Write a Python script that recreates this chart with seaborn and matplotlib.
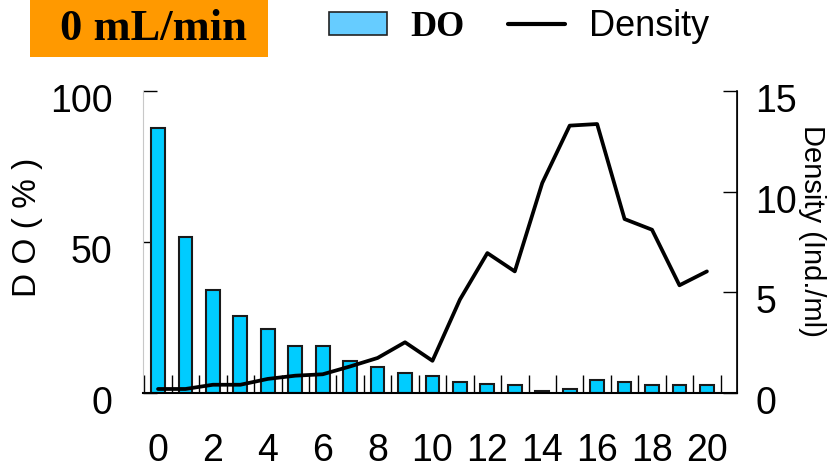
import numpy as np
import pandas as pd
import matplotlib.pyplot as plt
import seaborn as sns
from matplotlib.patches import Patch, Rectangle
from matplotlib.lines import Line2D
from matplotlib.ticker import FixedLocator
from matplotlib.transforms import ScaledTranslation

# ── Data ─────────────────────────────────────────────────────────
days = list(range(21))
do_pct = [87.7, 51.7, 34.0, 25.6, 21.1, 15.6, 15.6, 10.7, 8.5, 6.7, 5.5,
          3.8, 3.1, 2.5, 0.8, 1.3, 4.2, 3.6, 2.5, 2.5, 2.5]
density = [0.2, 0.2, 0.41, 0.41, 0.7, 0.86, 0.93, 1.32, 1.74, 2.52, 1.6,
           4.64, 6.95, 6.04, 10.43, 13.28, 13.36, 8.64, 8.11, 5.35, 6.04]
x_ticks = list(range(0, 21, 2))
do_ticks = [0, 50, 100]
dens_ticks = [0, 5, 10, 15]

df = pd.DataFrame({"day": days, "DO": do_pct, "Density": density})

sns.set_style("white")
plt.rcParams["font.family"] = ["Liberation Sans", "DejaVu Sans"]
for key in ["text.color", "axes.labelcolor", "xtick.color", "ytick.color"]:
    plt.rcParams[key] = "black"

fig = plt.figure(figsize=(8.31, 4.71), dpi=100)
ax = fig.add_axes([0.172, 0.1656, 0.715, 0.6412])

# ── Bars (DO) ────────────────────────────────────────────────────
sns.barplot(data=df, x="day", y="DO", color="#00CCFF", saturation=1,
            width=0.5, edgecolor="#1a1a1a", linewidth=1.5, ax=ax)
ax.set_xlim(-0.55, 21.1)
ax.set_ylim(0, 100)
ax.set_yticks(do_ticks)
ax.set_xticks(x_ticks)
ax.set_xticklabels([str(t) for t in x_ticks])
ax.xaxis.set_minor_locator(FixedLocator(np.arange(-0.5, 21, 1.0)))
ax.tick_params(axis="x", which="major", length=0, labelsize=27, pad=29)
ax.tick_params(axis="x", which="minor", direction="in", length=13,
               width=1, color="black", bottom=True)
ax.tick_params(axis="y", direction="in", length=10, width=1,
               labelsize=27, pad=22, color="black", left=True)
ax.set_xlabel("")
ax.set_ylabel("D O ( % )", fontsize=24, va="center", ha="center",
              rotation_mode="anchor")
ax.yaxis.set_label_coords(-0.195, 0.55)
ax.spines["top"].set_visible(False)
ax.spines["left"].set_color("#c8c8c8")
ax.spines["bottom"].set_color("black")
ax.spines["bottom"].set_linewidth(1.5)

# ── Line (Density) ───────────────────────────────────────────────
ax2 = ax.twinx()
sns.lineplot(data=df, x="day", y="Density", color="black", linewidth=2.7,
             ax=ax2)
ax2.set_ylim(0, 15)
ax2.set_yticks(dens_ticks)
ax2.tick_params(axis="y", direction="in", length=10, width=1,
                labelsize=27, pad=13, color="black", right=True)
ax2.set_ylabel("Density (Ind./ml)", fontsize=21, rotation=270,
               va="center", ha="center", rotation_mode="anchor")
ax2.yaxis.set_label_coords(1.126, 0.536)
ax2.spines["top"].set_visible(False)
ax2.spines["left"].set_visible(False)
ax2.spines["right"].set_color("black")
ax2.spines["right"].set_linewidth(1.2)
ax2.spines["bottom"].set_visible(False)

# tick labels on both y axes sit a little below their ticks
shift = ScaledTranslation(0, -7 / 100, fig.dpi_scale_trans)
for lab in ax.get_yticklabels() + ax2.get_yticklabels():
    lab.set_transform(lab.get_transform() + shift)

# ── Title box ────────────────────────────────────────────────────
fig.patches.append(Rectangle((30 / 831, 1 - 57 / 471), 238 / 831, 57 / 471,
                             transform=fig.transFigure, facecolor="#FF9900",
                             edgecolor="none", zorder=0))
fig.text(153 / 831, 1 - 29 / 471, "0 mL/min", ha="center", va="center",
         fontsize=32, fontweight="bold", family="Liberation Serif")

# ── Legend ───────────────────────────────────────────────────────
handles = [Patch(facecolor="#66CCFF", edgecolor="#222222", linewidth=1.2),
           Line2D([], [], color="black", linewidth=3)]
leg = fig.legend(handles, ["DO", "Density"], loc="center",
                 bbox_to_anchor=(519 / 831, 1 - 27 / 471), ncol=2,
                 frameon=False, fontsize=26, handlelength=1.6,
                 handleheight=0.6, handletextpad=0.65, columnspacing=1.2)
leg.get_texts()[0].set_fontfamily("Liberation Serif")
leg.get_texts()[0].set_fontweight("bold")

plt.savefig("out.png", dpi=100)
